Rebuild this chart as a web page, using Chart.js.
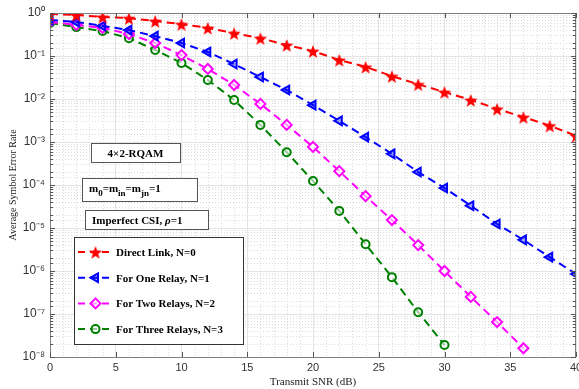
<!DOCTYPE html>
<html>
<head>
<meta charset="utf-8">
<script src="https://cdn.jsdelivr.net/npm/chart.js@4.4.0/dist/chart.umd.min.js"></script>
<style>
  html, body { margin: 0; padding: 0; background: #fff; }
  #wrap { width: 579px; height: 389px; }
</style>
</head>
<body>
<div id="wrap"><canvas id="ser"></canvas></div>
<script>
// SNR points (dB), one marker every 2 dB
let snr = [0, 2, 4, 6, 8, 10, 12, 14, 16, 18, 20, 22, 24, 26, 28, 30, 32, 34, 36, 38, 40];

// average SER
let directLink = [0.95, 0.90, 0.81, 0.76, 0.65, 0.55, 0.45, 0.34, 0.26, 0.18, 0.13,
  0.081, 0.056, 0.034, 0.022, 0.0145, 0.0095, 0.0059, 0.0038, 0.0024, 0.0014];
let oneRelay = [0.69, 0.62, 0.50, 0.40, 0.29, 0.20, 0.124, 0.065, 0.0325, 0.0162, 0.0072,
  0.0031, 0.0013, 5.3e-4, 2.0e-4, 8.5e-5, 3.3e-5, 1.24e-5, 5.3e-6, 2.1e-6, 8.5e-7];
let twoRelays = [0.62, 0.53, 0.45, 0.325, 0.20, 0.105, 0.050, 0.0212, 0.0077, 0.0025,
  7.7e-4, 2.1e-4, 5.5e-5, 1.53e-5, 4.0e-6, 1.0e-6, 2.5e-7, 6.5e-8, 1.6e-8];
let threeRelays = [0.585, 0.47, 0.38, 0.26, 0.138, 0.069, 0.0277, 0.0095, 0.0025,
  5.8e-4, 1.24e-4, 2.5e-5, 4.2e-6, 7.2e-7, 1.1e-7, 1.9e-8];

let seriesNames = ["Direct Link, N=0", "For One Relay, N=1", "For Two Relays, N=2", "For Three Relays, N=3"];
let xTickLabels = [0, 5, 10, 15, 20, 25, 30, 35, 40];

function toPoints(values) {
  return values.map((v, i) => ({ x: snr[i], y: v }));
}

function sup(n) {
  const map = { "-": "\u207B", "0": "\u2070", "1": "\u00B9", "2": "\u00B2", "3": "\u00B3",
    "4": "\u2074", "5": "\u2075", "6": "\u2076", "7": "\u2077", "8": "\u2078", "9": "\u2079" };
  return String(n).split("").map((c) => map[c]).join("");
}

function isDecade(v) {
  const p = Math.log10(v);
  return Math.abs(p - Math.round(p)) < 1e-6;
}

// filled five point star, used as point style for the direct link
function makeStar(color, r) {
  const c = document.createElement("canvas");
  c.width = c.height = r * 2 + 2;
  const g = c.getContext("2d");
  g.fillStyle = color;
  g.beginPath();
  for (let i = 0; i < 10; i++) {
    const rad = i % 2 === 0 ? r : r * 0.42;
    const a = -Math.PI / 2 + (i * Math.PI) / 5;
    g.lineTo(r + 1 + rad * Math.cos(a), r + 1 + rad * Math.sin(a) + 1);
  }
  g.closePath();
  g.fill();
  return c;
}

let star = makeStar("#ff0000", 7);
let serif = "'Liberation Serif', 'Times New Roman', serif";
let sans = "'Liberation Sans', Arial, sans-serif";

// dotted minor grid + inner tick marks + box
let gridPlugin = {
  id: "matlabGrid",
  beforeDatasetsDraw(chart) {
    const { ctx, chartArea: a, scales } = chart;
    ctx.save();
    ctx.strokeStyle = "#dcdcdc";
    ctx.lineWidth = 1;
    ctx.setLineDash([1, 2]);
    scales.y.ticks.forEach((t) => {
      if (isDecade(t.value)) return;
      const y = Math.round(scales.y.getPixelForValue(t.value)) + 0.5;
      ctx.beginPath(); ctx.moveTo(a.left, y); ctx.lineTo(a.right, y); ctx.stroke();
    });
    scales.x.ticks.forEach((t) => {
      if (t.value % 5 === 0) return;
      const x = Math.round(scales.x.getPixelForValue(t.value)) + 0.5;
      ctx.beginPath(); ctx.moveTo(x, a.top); ctx.lineTo(x, a.bottom); ctx.stroke();
    });
    ctx.restore();
  },
  afterDraw(chart) {
    const { ctx, chartArea: a, scales } = chart;
    ctx.save();
    ctx.strokeStyle = "#7f7f7f";
    ctx.lineWidth = 1;
    ctx.strokeRect(a.left + 0.5, a.top + 0.5, a.right - a.left - 1, a.bottom - a.top);
    ctx.strokeStyle = "#555";
    scales.y.ticks.forEach((t) => {
      const y = Math.round(scales.y.getPixelForValue(t.value)) + 0.5;
      const len = isDecade(t.value) ? 5 : 3;
      ctx.beginPath();
      ctx.moveTo(a.left, y); ctx.lineTo(a.left + len, y);
      ctx.moveTo(a.right, y); ctx.lineTo(a.right - len, y);
      ctx.stroke();
    });
    xTickLabels.forEach((v) => {
      const x = Math.round(scales.x.getPixelForValue(v)) + 0.5;
      ctx.beginPath();
      ctx.moveTo(x, a.bottom); ctx.lineTo(x, a.bottom - 5);
      ctx.moveTo(x, a.top); ctx.lineTo(x, a.top + 5);
      ctx.stroke();
    });
    ctx.restore();
  },
};

// text boxes and the legend inside the plot
let notePlugin = {
  id: "notes",
  afterDatasetsDraw(chart) {
    const ctx = chart.ctx;
    ctx.save();
    const box = (x, y, w, h, color) => {
      ctx.fillStyle = "#fff";
      ctx.fillRect(x, y, w, h);
      ctx.strokeStyle = color || "#555";
      ctx.lineWidth = 1;
      ctx.strokeRect(x + 0.5, y + 0.5, w, h);
    };
    ctx.fillStyle = "#000";
    ctx.textBaseline = "alphabetic";

    box(91, 143, 89, 19);
    ctx.fillStyle = "#000";
    ctx.font = "bold 11px " + serif;
    ctx.textAlign = "center";
    ctx.fillText("4\u00D72-RQAM", 135.5, 157);

    box(82, 178, 115, 23);
    ctx.fillStyle = "#000";
    ctx.textAlign = "left";
    let cx = 89;
    const parts = [["m", 0], ["0", 1], ["=m", 0], ["in", 1], ["=m", 0], ["jn", 1], ["=1", 0]];
    parts.forEach(([s, sub]) => {
      ctx.font = sub ? "bold 9px " + serif : "bold 11px " + serif;
      ctx.fillText(s, cx, sub ? 196 : 192);
      cx += ctx.measureText(s).width;
    });

    box(85, 210, 123, 19);
    ctx.fillStyle = "#000";
    cx = 92;
    [["Imperfect CSI, ", "bold "], ["\u03C1", "bold italic "], ["=1", "bold "]].forEach(([s, f]) => {
      ctx.font = f + "11px " + serif;
      ctx.fillText(s, cx, 224);
      cx += ctx.measureText(s).width;
    });

    // legend
    box(74, 237, 169, 107, "#333");
    chart.data.datasets.forEach((ds, i) => {
      const y = 252 + i * 25.7;
      ctx.save();
      ctx.strokeStyle = ds.borderColor;
      ctx.lineWidth = 2;
      ctx.setLineDash([7, 5]);
      ctx.beginPath(); ctx.moveTo(78, y); ctx.lineTo(113, y); ctx.stroke();
      ctx.restore();
      ctx.setLineDash([]);
      if (ds.pointStyle instanceof HTMLCanvasElement) {
        ctx.drawImage(ds.pointStyle, 95.5 - ds.pointStyle.width / 2, y - ds.pointStyle.height / 2);
      } else {
        ctx.fillStyle = ds.pointBackgroundColor;
        ctx.strokeStyle = ds.borderColor;
        ctx.lineWidth = ds.pointBorderWidth;
        Chart.helpers.drawPoint(ctx, {
          pointStyle: ds.pointStyle, rotation: ds.pointRotation || 0,
          radius: ds.pointRadius, borderWidth: ds.pointBorderWidth,
        }, 95.5, y);
      }
      ctx.fillStyle = "#000";
      ctx.font = "bold 11px " + serif;
      ctx.textAlign = "left";
      ctx.textBaseline = "middle";
      ctx.fillText(ds.label, 116, y + 1);
      ctx.textBaseline = "alphabetic";
    });
    ctx.restore();
  },
};

let commonLine = { borderWidth: 2, borderDash: [8, 5], fill: false, tension: 0, pointBorderWidth: 2 };

new Chart(document.getElementById("ser"), {
  type: "line",
  data: {
    datasets: [
      Object.assign({}, commonLine, {
        label: seriesNames[0], data: toPoints(directLink),
        borderColor: "#ff0000", backgroundColor: "#ff0000",
        pointStyle: star, pointRadius: 7, pointBackgroundColor: "#ff0000",
      }),
      Object.assign({}, commonLine, {
        label: seriesNames[1], data: toPoints(oneRelay),
        borderColor: "#0000ff", backgroundColor: "#0000ff",
        pointStyle: "triangle", pointRotation: -90, pointRadius: 5,
        pointBackgroundColor: "rgba(0,0,255,0.35)",
      }),
      Object.assign({}, commonLine, {
        label: seriesNames[2], data: toPoints(twoRelays),
        borderColor: "#ff00ff", backgroundColor: "#ff00ff",
        pointStyle: "rectRot", pointRadius: 5,
        pointBackgroundColor: "rgba(255,255,255,0.6)",
      }),
      Object.assign({}, commonLine, {
        label: seriesNames[3], data: toPoints(threeRelays),
        borderColor: "#008000", backgroundColor: "#008000",
        pointStyle: "circle", pointRadius: 4,
        pointBackgroundColor: "rgba(255,255,255,0.6)",
      }),
    ],
  },
  options: {
    responsive: true,
    maintainAspectRatio: false,
    animation: false,
    layout: { autoPadding: false, padding: { top: 13, right: 3, left: 0, bottom: 0 } },
    plugins: { legend: { display: false }, tooltip: { enabled: false } },
    scales: {
      x: {
        type: "linear", min: 0, max: 40,
        afterFit: (s) => { s.height = 32; s.paddingLeft = 0; s.paddingRight = 0; },
        afterBuildTicks: (s) => {
          s.ticks = [];
          for (let v = 0; v <= 40; v++) s.ticks.push({ value: v });
        },
        ticks: {
          autoSkip: false, maxRotation: 0, padding: 4,
          color: "#333", font: { family: sans, size: 11 },
          callback: (v) => (xTickLabels.includes(v) ? String(v) : ""),
        },
        grid: {
          drawTicks: false,
          color: (c) => (c.tick && c.tick.value % 5 === 0 ? "#e4e4e4" : "rgba(0,0,0,0)"),
        },
        border: { display: false },
        title: {
          display: true, text: "Transmit SNR (dB)", color: "#222",
          font: { family: serif, size: 11 }, padding: { top: 0, bottom: 0 },
        },
      },
      y: {
        type: "logarithmic", min: 1e-8, max: 1,
        afterFit: (s) => { s.width = 50; s.paddingTop = 0; s.paddingBottom = 0; },
        ticks: {
          autoSkip: false, padding: 5,
          color: "#333", font: { family: sans, size: 12 },
          callback: (v) => (isDecade(v) ? "10" + sup(Math.round(Math.log10(v))) : ""),
        },
        grid: {
          drawTicks: false,
          color: (c) => (c.tick && isDecade(c.tick.value) ? "#e4e4e4" : "rgba(0,0,0,0)"),
        },
        border: { display: false },
        title: {
          display: true, text: "Average Symbol Error Rate", color: "#222",
          font: { family: serif, size: 10 }, padding: { top: 7, bottom: 2 },
        },
      },
    },
  },
  plugins: [gridPlugin, notePlugin],
});
</script>
</body>
</html>
